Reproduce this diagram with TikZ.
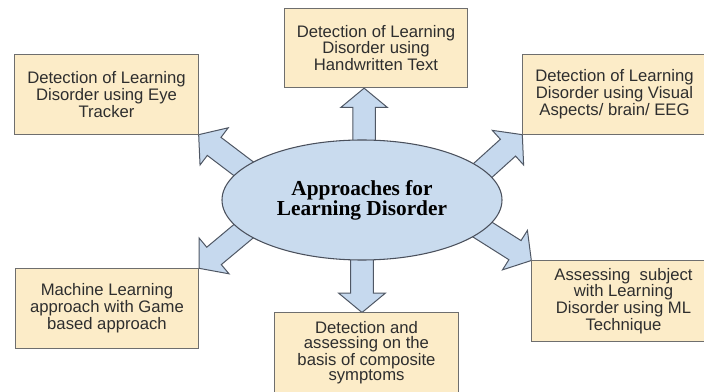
\documentclass[tikz,border=0pt]{standalone}
\usepackage{fontspec}
\setmainfont{Liberation Sans}
\newfontfamily\titlefont{Liberation Serif}
\usetikzlibrary{shapes.geometric,calc}

\definecolor{boxfill}{HTML}{FCECC8}
\definecolor{boxline}{HTML}{6E6E6E}
\definecolor{ovalfill}{HTML}{C9DBEE}
\definecolor{ovalline}{HTML}{4A505C}
\definecolor{arrowfill}{HTML}{C6D9EE}
\definecolor{arrowline}{HTML}{4F5764}
\definecolor{boxtext}{HTML}{2E2E2E}

\pgfdeclarelayer{arrowlayer}
\pgfsetlayers{arrowlayer,main}

\tikzset{
  topic/.style={rectangle, draw=boxline, fill=boxfill, line width=0.75pt,
    align=center, inner sep=0pt, text=boxtext,
    font=\fontsize{12.5}{11.3}\selectfont},
  wide/.style={minimum width=137.5pt, minimum height=59.5pt},
  hub/.style={ellipse, draw=ovalline, fill=ovalfill, line width=0.8pt,
    minimum width=210pt, minimum height=90pt, inner sep=0pt, align=center,
    font=\titlefont\bfseries\fontsize{16}{15}\selectfont},
  % outlined block arrow from the start point to the tip
  blockarrow/.style={draw=arrowline, fill=arrowfill, line width=0.75pt,
    line join=miter,
    to path={let \p1=(\tikztostart), \p2=(\tikztotarget),
      \n1={atan2(\y2-\y1,\x2-\x1)},
      \n2={veclen(\x2-\x1,\y2-\y1)-14.5pt} in
      ($(\p1)+(\n1:-10pt)+(\n1+90:8.5pt)$)
      -- ($(\p1)+(\n1:\n2)+(\n1+90:8.5pt)$)
      -- ($(\p1)+(\n1:\n2)+(\n1+90:17.5pt)$)
      -- (\p2)
      -- ($(\p1)+(\n1:\n2)+(\n1-90:17.5pt)$)
      -- ($(\p1)+(\n1:\n2)+(\n1-90:8.5pt)$)
      -- ($(\p1)+(\n1:-10pt)+(\n1-90:8.5pt)$) -- cycle}}
}

\begin{document}
\begin{tikzpicture}[x=0.75pt,y=-0.75pt]
  \useasboundingbox (0,0) rectangle (704,392);
  \clip (0,0) rectangle (704,392);

  % central topic
  \node[hub] (ell) at (362,200) {Approaches for\\Learning Disorder};

  % surrounding approaches
  \node[topic, wide] (eye) at (106.5,94.5)
    {Detection of Learning\\Disorder using Eye\\Tracker};
  \node[topic, wide] (hand) at (376,48)
    {Detection of Learning\\Disorder using\\Handwritten Text};
  \node[topic, wide] (visual) at (614.5,94.5)
    {Detection of Learning\\Disorder using Visual\\Aspects/ brain/ EEG};
  \node[topic, wide] (game) at (107,308.5)
    {Machine Learning\\approach with Game\\based approach};
  \node[topic, wide, minimum height=60pt] (comp) at (366.5,353)
    {Detection and\\assessing on the\\basis of composite\\symptoms};
  \node[topic, wide, minimum height=60pt] (ml) at (623.5,301)
    {Assessing\ \ subject\\with Learning\\Disorder using ML\\Technique};

  % arrows out of the central topic
  \begin{pgfonlayer}{arrowlayer}
    \draw[blockarrow] (ell.165) to (eye.south east);
    \draw[blockarrow] (ell.88) to (ell.88 |- hand.south);
    \draw[blockarrow] (ell.14) to (visual.south west);
    \draw[blockarrow] (ell.195) to (game.north east);
    \draw[blockarrow] (ell.270) to (ell.270 |- comp.north);
    \draw[blockarrow] (ell.346) to (ml.north west);
  \end{pgfonlayer}
\end{tikzpicture}
\end{document}
